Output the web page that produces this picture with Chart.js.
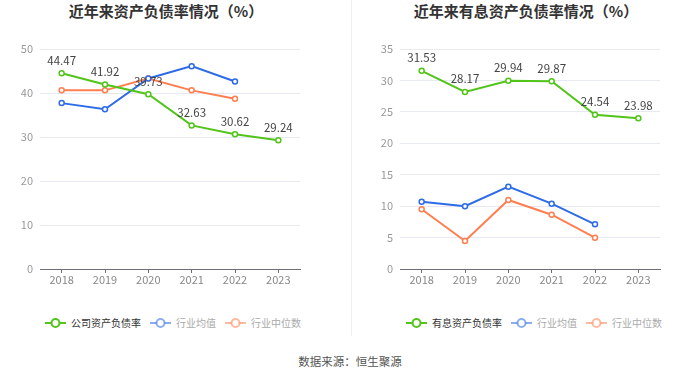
<!DOCTYPE html>
<html><head><meta charset="utf-8">
<script src="https://cdn.jsdelivr.net/npm/chart.js@4/dist/chart.umd.min.js"></script>
<style>
body{margin:0;background:#fff;width:700px;height:378px;overflow:hidden;font-family:"Noto Sans CJK SC",sans-serif;position:relative}
.box{position:absolute;top:0;width:350px;height:300px}
#l{left:0}#r{left:350px}
#sep{position:absolute;left:351px;top:0;width:1px;height:336px;background:#eeeeee}
.title{position:absolute;top:1px;font-size:15px;font-weight:bold;color:#333;line-height:20px;white-space:nowrap;transform:translateX(-50%)}
.legend{position:absolute;top:316px;height:14px;display:flex;align-items:center;white-space:nowrap;font-size:10px;line-height:14px}
.item{display:flex;align-items:center;margin-right:9px}
.item svg{margin-right:5px}
#src{position:absolute;left:0;width:700px;top:352px;text-align:center;font-size:11.5px;color:#555;line-height:18px}
</style></head><body>
<div class="title" style="left:166px">近年来资产负债率情况（%）</div>
<div class="title" style="left:526px">近年来有息资产负债率情况（%）</div>
<div class="box" id="l"><canvas id="c1" width="350" height="300"></canvas></div>
<div id="sep"></div>
<div class="box" id="r"><canvas id="c2" width="350" height="300"></canvas></div>
<div class="legend" id="lg1" style="left:45px"></div>
<div class="legend" id="lg2" style="left:406px"></div>
<div id="src">数据来源：恒生聚源</div>
<script>
const years = ['2018','2019','2020','2021','2022','2023'];
const debtRatio = [44.47,41.92,39.73,32.63,30.62,29.24];
const debtIndustryAvg = [37.7,36.3,43.3,46.1,42.6,null];
const debtIndustryMedian = [40.6,40.6,43.3,40.6,38.7,null];
const interestDebtRatio = [31.53,28.17,29.94,29.87,24.54,23.98];
const interestIndustryAvg = [10.7,10.0,13.1,10.4,7.1,null];
const interestIndustryMedian = [9.5,4.45,10.98,8.64,4.98,null];

const FONT = '"Noto Sans CJK SC", "Noto Sans", sans-serif';
const GREEN = '#52c41a', BLUE = '#2e6be6', ORANGE = '#ff7f50';

const valueLabels = {
  id:'valueLabels',
  afterDatasetsDraw(chart){
    const ctx = chart.ctx;
    const meta = chart.getDatasetMeta(0);
    const data = chart.data.datasets[0].data;
    ctx.save();
    ctx.font = '11.5px ' + FONT;
    ctx.fillStyle = '#444';
    ctx.textAlign = 'center';
    ctx.textBaseline = 'middle';
    meta.data.forEach((p,i)=>{
      ctx.fillText(data[i].toFixed(2), p.x, p.y - 13);
    });
    ctx.restore();
  }
};

function buildLegend(id, chart){
  const el = document.getElementById(id);
  const cols = [GREEN, 'rgba(46,107,230,0.55)', 'rgba(255,127,80,0.55)'];
  const tcol = ['#333', '#aaa', '#aaa'];
  chart.data.datasets.forEach((d,i)=>{
    const it = document.createElement('div');
    it.className = 'item';
    it.innerHTML = '<svg width="21" height="12" viewBox="0 0 21 12"><line x1="0" y1="6" x2="21" y2="6" stroke="'+cols[i]+'" stroke-width="2"/><circle cx="10.5" cy="6" r="4" fill="#fff" stroke="'+cols[i]+'" stroke-width="2"/></svg>';
    const t = document.createElement('span');
    t.textContent = d.label; t.style.color = tcol[i];
    it.appendChild(t);
    el.appendChild(it);
  });
}

function makeChart(id, mainLabel, main, avg, med, max, step, yWidth, padR){
  const ds = (label, data, color) => ({
    label, data, borderColor: color, backgroundColor: '#fff',
    borderWidth: 2, pointRadius: 2.5, pointBorderWidth: 1.5,
    pointBackgroundColor: '#fff', pointBorderColor: color, tension: 0, spanGaps: false
  });
  return new Chart(document.getElementById(id), {
    type: 'line',
    data: { labels: years, datasets: [
      ds(mainLabel, main, GREEN),
      ds('行业均值', avg, BLUE),
      ds('行业中位数', med, ORANGE)
    ]},
    options: {
      responsive: false, animation: false,
      layout: { padding: { left: 0, right: padR, top: 49, bottom: 11 } },
      plugins: { legend: { display: false }, title: { display: false }, tooltip: { enabled: false } },
      scales: {
        x: { offset: true,
          afterFit(s){ s.height = 20; },
          grid: { drawOnChartArea: false, drawTicks: true, tickLength: 4, color: '#6e7079' },
          border: { display: true, color: '#6e7079' },
          ticks: { color: '#888', font: { family: FONT, size: 11 }, padding: 0, maxRotation: 0 } },
        y: { min: 0, max: max,
          afterFit(s){ s.width = yWidth; },
          grid: { color: '#e6e9f2', drawTicks: false },
          border: { display: false },
          ticks: { stepSize: step, color: '#999', font: { family: FONT, size: 11 }, padding: 7 } }
      }
    },
    plugins: [valueLabels]
  });
}

const ch1 = makeChart('c1', '公司资产负债率', debtRatio, debtIndustryAvg, debtIndustryMedian, 50, 10, 40, 50);
const ch2 = makeChart('c2', '有息资产负债率', interestDebtRatio, interestIndustryAvg, interestIndustryMedian, 35, 5, 50, 40);
buildLegend('lg1', ch1);
buildLegend('lg2', ch2);
</script>
</body></html>
